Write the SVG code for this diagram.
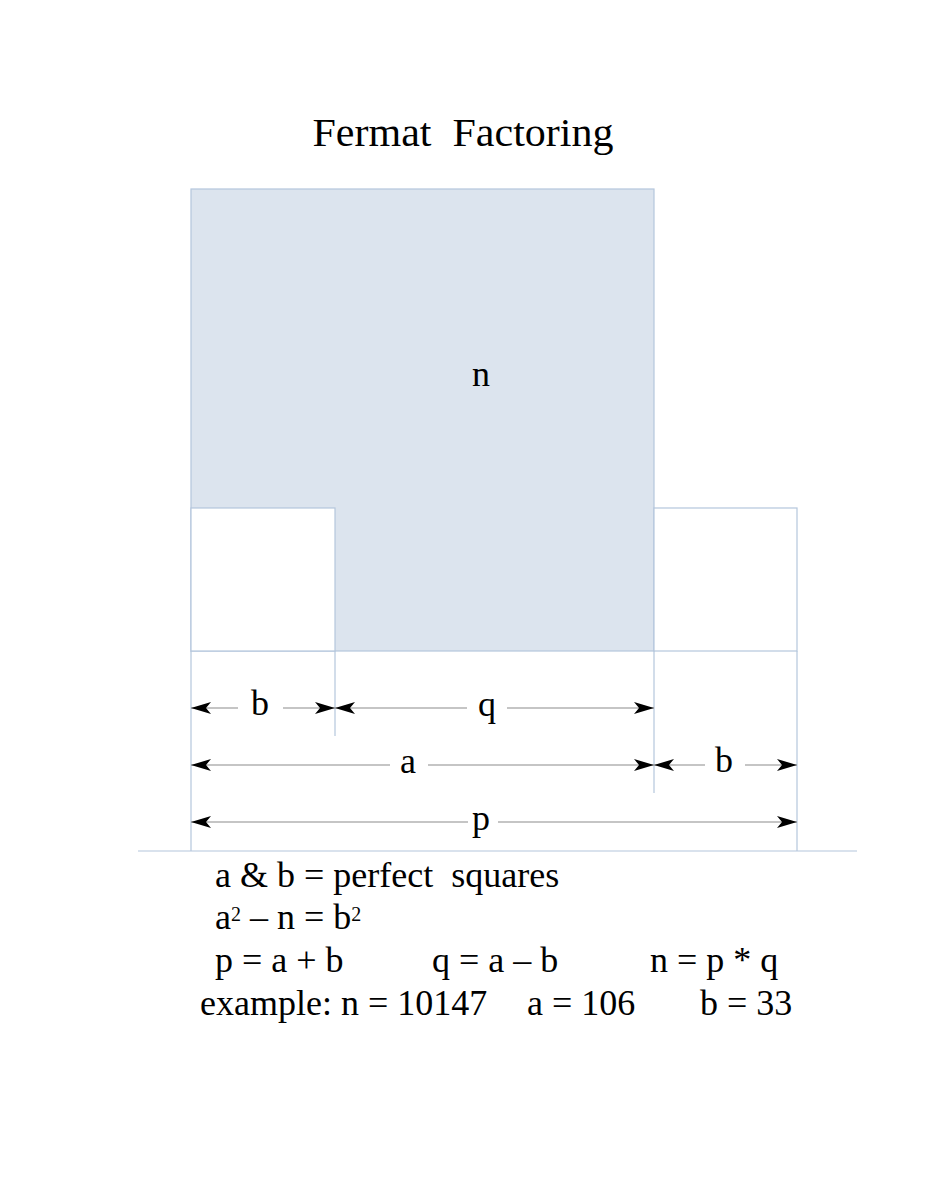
<svg xmlns="http://www.w3.org/2000/svg" width="927" height="1200" viewBox="0 0 927 1200">
<style>
text{font-family:"Liberation Serif","Times New Roman",serif;fill:#000;white-space:pre}
.guide{stroke:#b4c6dc;stroke-width:1.2}
.dim{stroke:#8c8c8c;stroke-width:1.2;fill:none}
.lbl{font-size:36px;text-anchor:middle}
.body{font-size:36px}
</style>
<defs>
<marker id="ah" markerUnits="userSpaceOnUse" markerWidth="22" markerHeight="14" refX="20" refY="6" orient="auto-start-reverse" viewBox="0 0 22 14">
<path d="M0,0 L20,6 L0,12 L5,6 Z" fill="#000"/>
</marker>
</defs>
<rect width="927" height="1200" fill="#fff"/>
<text x="463" y="146" font-size="40" text-anchor="middle" textLength="301" lengthAdjust="spacingAndGlyphs">Fermat  Factoring</text>
<g id="square-a">
<rect x="191" y="189" width="463" height="462" class="guide" style="fill:#dce4ee"/>
</g>
<g id="square-b-left">
<rect x="191" y="508" width="144" height="143" class="guide" style="fill:#ffffff"/>
</g>
<g id="square-b-right">
<rect x="654" y="508" width="143" height="143" class="guide" style="fill:#ffffff"/>
</g>
<text x="481" y="386" font-size="36" text-anchor="middle">n</text>
<g id="guides" fill="none">
<line class="guide" x1="191" y1="651" x2="191" y2="851"/>
<line class="guide" x1="335" y1="651" x2="335" y2="736"/>
<line class="guide" x1="654" y1="651" x2="654" y2="793"/>
<line class="guide" x1="797" y1="651" x2="797" y2="851"/>
<line class="guide" x1="138" y1="851" x2="857" y2="851"/>
</g>
<g id="connectors">
<line class="dim" x1="238" y1="708" x2="191" y2="708" marker-end="url(#ah)"/>
<line class="dim" x1="283" y1="708" x2="335" y2="708" marker-end="url(#ah)"/>
<line class="dim" x1="467" y1="708" x2="335" y2="708" marker-end="url(#ah)"/>
<line class="dim" x1="507" y1="708" x2="654" y2="708" marker-end="url(#ah)"/>
<line class="dim" x1="390" y1="765" x2="191" y2="765" marker-end="url(#ah)"/>
<line class="dim" x1="428" y1="765" x2="654" y2="765" marker-end="url(#ah)"/>
<line class="dim" x1="705" y1="765" x2="654" y2="765" marker-end="url(#ah)"/>
<line class="dim" x1="745" y1="765" x2="797" y2="765" marker-end="url(#ah)"/>
<line class="dim" x1="468" y1="822" x2="191" y2="822" marker-end="url(#ah)"/>
<line class="dim" x1="498" y1="822" x2="797" y2="822" marker-end="url(#ah)"/>
</g>
<g id="labels">
<text class="lbl" x="260" y="715">b</text>
<text class="lbl" x="487" y="716">q</text>
<text class="lbl" x="408" y="773">a</text>
<text class="lbl" x="724" y="772">b</text>
<text class="lbl" x="481" y="830">p</text>
</g>
<g id="notes">
<text class="body" x="215" y="887">a &amp; b = perfect  squares</text>
<text class="body" x="215" y="929">a<tspan dy="-8" font-size="20">2</tspan><tspan dy="8"> – n = b</tspan><tspan dy="-8" font-size="20">2</tspan></text>
<text class="body" x="215" y="972">p = a + b</text>
<text class="body" x="432" y="972">q = a – b</text>
<text class="body" x="650" y="972">n = p * q</text>
<text class="body" x="200" y="1015">example: n = 10147</text>
<text class="body" x="527" y="1015">a = 106</text>
<text class="body" x="700" y="1015">b = 33</text>
</g>
</svg>
